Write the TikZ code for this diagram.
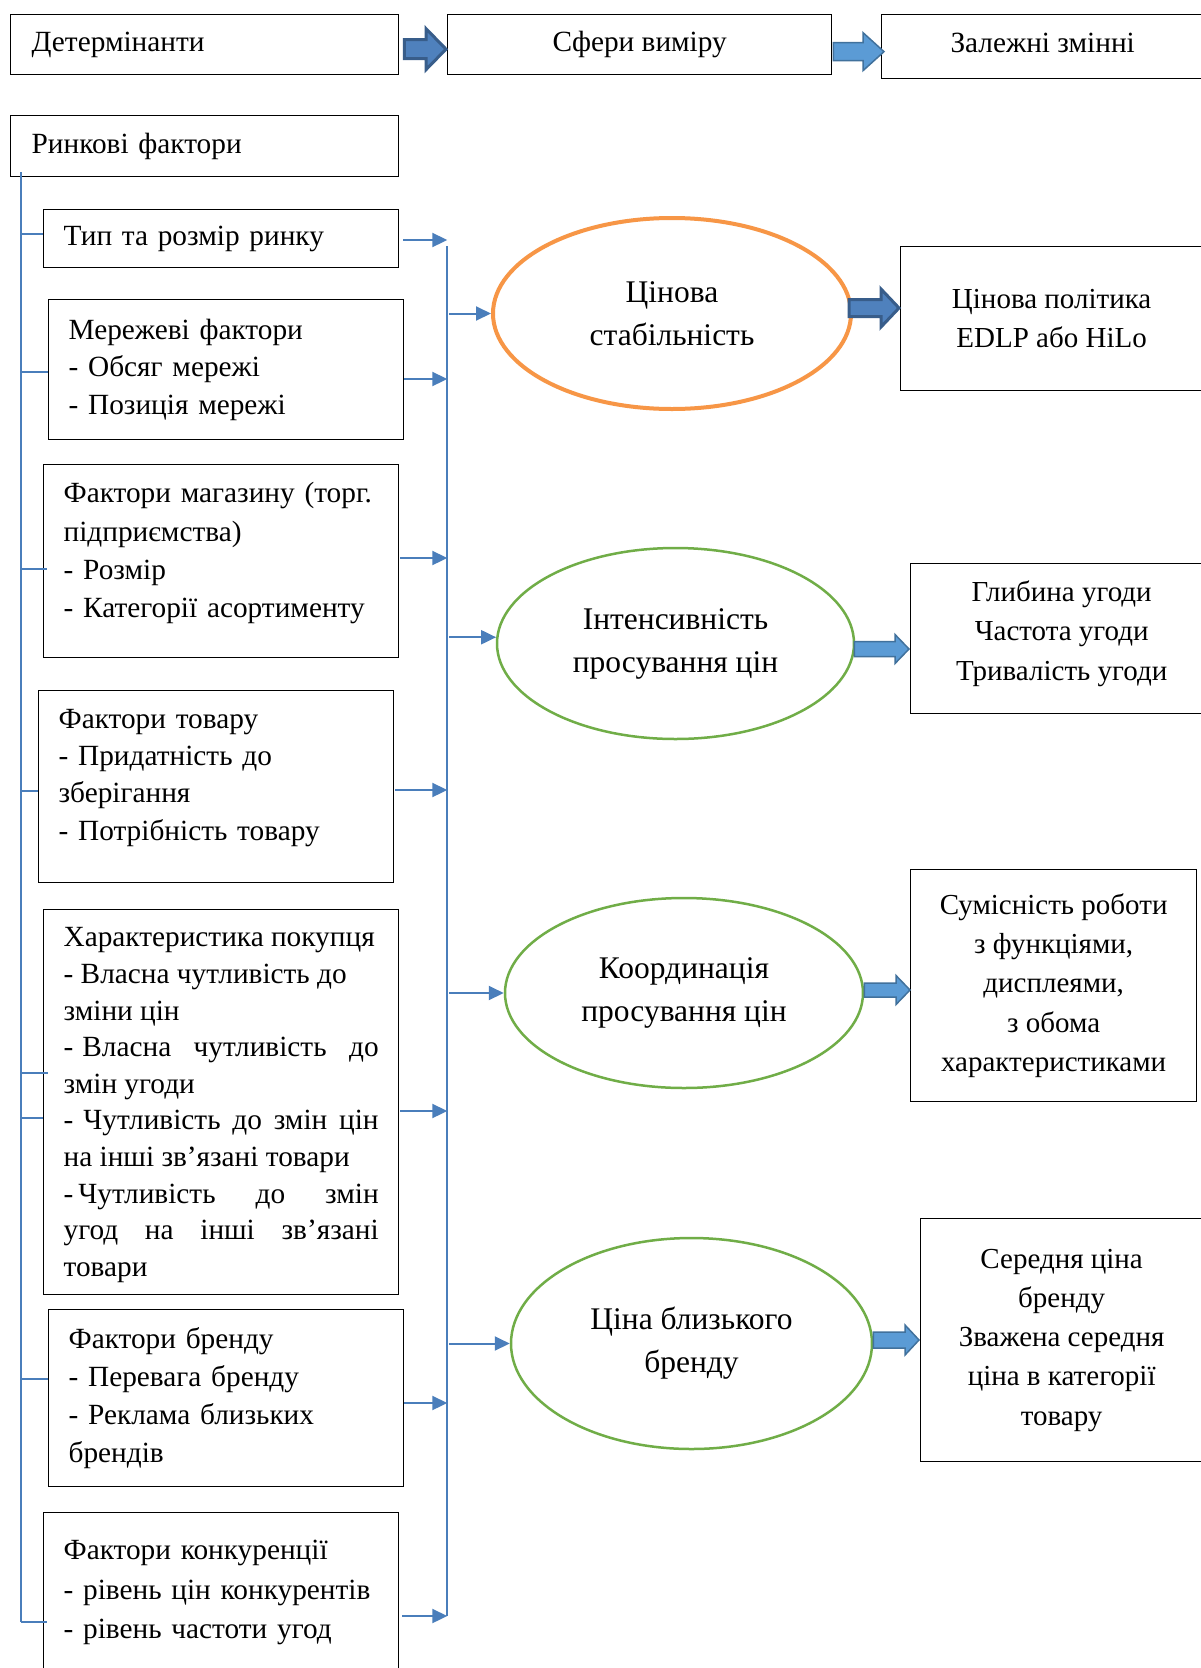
\documentclass[tikz,border=0pt]{standalone}
\usepackage{fontspec}
\setmainfont{Liberation Serif}
\usetikzlibrary{shapes.geometric,arrows.meta,calc}
\definecolor{connc}{HTML}{4A7EBB}
\definecolor{orangeE}{HTML}{F79646}
\definecolor{greenE}{HTML}{70AD47}
\definecolor{darkA}{HTML}{385D8A}
\definecolor{darkF}{HTML}{4F81BD}
\definecolor{lightA}{HTML}{41719C}
\definecolor{lightF}{HTML}{5B9BD5}
% style, start, end, body half, head half, head length
\newcommand\blockarrow[6]{%
  \path[#1] let \p1=#2, \p2=#3 in
    (\x1,\y1+#4pt) -- (\x2-#6pt,\y1+#4pt) -- (\x2-#6pt,\y1+#5pt) -- (\x2,\y1)
    -- (\x2-#6pt,\y1-#5pt) -- (\x2-#6pt,\y1-#4pt) -- (\x1,\y1-#4pt) -- cycle;}
\newcommand\ltick[2]{\draw[conn] let \p1=(lsTop), \p2=($(#1.north west)+(#2)$) in (\x1,\y2) -- (\p2);}
\newcommand\rarrow[2]{\draw[carrow] let \p1=($(#1.north east)+(#2)$), \p2=(rsTop) in (\p1) -- (\x2,\y1);}
\newcommand\earrow[1]{\draw[carrow] let \p1=(rsTop), \p2=(#1) in (\x1+2pt,\y2) -- (\p2);}
\tikzset{
  box/.style={draw=black, line width=1.3pt, anchor=north west, inner ysep=0pt,
    font=\fontsize{29.3}{37.5}\selectfont},
  lbox/.style={box, minimum width=355pt, inner xsep=20pt, text width=315pt, align=left},
  rbox/.style={box, align=center, font=\fontsize{29}{39.3}\selectfont},
  ell/.style={ellipse, inner sep=0pt, align=center, font=\fontsize{31.5}{43}\selectfont},
  ellO/.style={ell, draw=orangeE, line width=4pt},
  ellG/.style={ell, draw=greenE, line width=2.5pt},
  conn/.style={draw=connc, line width=2pt},
  carrow/.style={conn, -{Triangle[length=15pt,width=14pt]}},
  darkarrow/.style={fill=darkF, draw=darkA, line width=3pt},
  lightarrow/.style={fill=lightF, draw=lightA, line width=1.5pt}
}
\begin{document}
\begin{tikzpicture}[x=1pt,y=-1pt]
\useasboundingbox (0,0) rectangle (1200,1668);
\fill[white] (0,0) rectangle (1200,1668);

% top row
\node[box, minimum width=388pt, minimum height=60pt, inner xsep=21pt, text width=346pt, align=left] (det) at (10,14) {\raisebox{3pt}{Детермінанти}};
\node[box, minimum width=384pt, minimum height=60pt, align=center] (sfer) at (447,14) {\raisebox{4pt}{Сфери виміру}};
\node[box, minimum width=322pt, minimum height=64pt, align=center] (zal) at (881,14) {\raisebox{7pt}{Залежні змінні}};

% left boxes
\node[box, minimum width=388pt, minimum height=61pt, inner xsep=21pt, text width=346pt, align=left] (rynk) at (10,115) {Ринкові фактори};
\node[lbox, minimum height=58pt] (tip) at (43,209) {\mbox{Тип та розмір ринку}};
\node[lbox, minimum height=140pt] (mer) at (48,299) {\mbox{Мережеві фактори}\\\mbox{- Обсяг мережі}\\\mbox{- Позиція мережі}};
\node[lbox, minimum height=193pt, font=\fontsize{29.3}{38.3}\selectfont] (mag) at (43,464) {\mbox{Фактори магазину (торг.}\\\mbox{підприємства)}\\\mbox{- Розмір}\\\mbox{- Категорії асортименту}\vspace{16pt}};
\node[lbox, minimum height=192pt, font=\fontsize{29.3}{37.3}\selectfont] (tov) at (38,690) {\mbox{Фактори товару}\\\mbox{- Придатність до}\\\mbox{зберігання}\\\mbox{- Потрібність товару}\vspace{18pt}};
\node[box, minimum width=355pt, minimum height=385pt, inner xsep=20pt, text width=315pt, align=justify, font=\fontsize{29.3}{36.6}\selectfont] (buy) at (43,909) {\mbox{Характеристика покупця}\newline
\mbox{- Власна чутливість до}\newline
\mbox{зміни цін}\newline
-\hspace{9pt}Власна чутливість до\linebreak
\mbox{змін угоди}\newline
-\hspace{10pt}Чутливість до змін цін\linebreak
\mbox{на інші зв’язані товари}\newline
-\hspace{5pt}Чутливість до змін\linebreak
угод на інші зв’язані\linebreak
товари\vspace{-6pt}};
\node[lbox, minimum height=177pt, font=\fontsize{29.3}{38}\selectfont] (bra) at (48,1309) {\mbox{Фактори бренду}\\\mbox{- Перевага бренду}\\\mbox{- Реклама близьких}\\\mbox{брендів}};
\node[lbox, minimum height=160pt, font=\fontsize{29.3}{39.5}\selectfont] (kon) at (43,1512) {\mbox{Фактори конкуренції}\\\mbox{- рівень цін конкурентів}\\\mbox{- рівень частоти угод}};

% ellipses
\node[ellO, minimum width=358pt, minimum height=191pt] (e1) at (672,313.5) {Цінова\\стабільність};
\node[ellG, minimum width=357pt, minimum height=191pt] (e2) at (675.5,643.5) {Інтенсивність\\просування цін};
\node[ellG, minimum width=358pt, minimum height=190pt] (e3) at (684,993) {Координація\\просування цін};
\node[ellG, minimum width=361pt, minimum height=211pt] (e4) at (691.5,1343.5) {Ціна близького\\бренду};

% right boxes
\node[rbox, minimum width=302pt, minimum height=144pt] (pol) at (900,246) {Цінова політика\\EDLP або HiLo};
\node[rbox, minimum width=302pt, minimum height=150pt] (gly) at (910,563) {Глибина угоди\\Частота угоди\\Тривалість угоди\vspace{10pt}};
\node[rbox, minimum width=286pt, minimum height=232pt] (sum) at (910,869) {Сумісність роботи\\з функціями,\\дисплеями,\\з обома\\характеристиками};
\node[rbox, minimum width=282pt, minimum height=243pt] (ser) at (920,1218) {Середня ціна\\бренду\\Зважена середня\\ціна в категорії\\товару};

% left spine
\coordinate (lsTop) at ($(rynk.south west)+(11,-5)$);
\coordinate (lsBot) at ($(kon.north west)+(-22,110)$);
\draw[conn] (lsTop) -- (lsBot);
\ltick{tip}{0,25}
\ltick{mer}{0,73}
\ltick{mag}{4,105}
\ltick{tov}{0,101}
\ltick{buy}{5,164}
\ltick{buy}{0,209}
\ltick{bra}{0,70}
\ltick{kon}{4,110}

% right spine
\coordinate (rsTop) at ($(tip.north east)+(48,37)$);
\coordinate (rsBot) at ($(kon.north east)+(48,104)$);
\draw[conn] (rsTop) -- (rsBot);
\rarrow{tip}{4,31}
\rarrow{mer}{0,80}
\rarrow{mag}{1,94}
\rarrow{tov}{1,100}
\rarrow{buy}{1,202}
\rarrow{bra}{0,94}
\rarrow{kon}{3,104}

% arrows into ellipses
\earrow{e1.west}
\earrow{e2.178}
\earrow{e3.west}
\earrow{e4.west}

% block arrows
\blockarrow{darkarrow}{($(det.east)+(5,4.5)$)}{($(sfer.west)+(-1,4.5)$)}{9.5}{20.5}{20}
\blockarrow{lightarrow}{($(sfer.east)+(1,7)$)}{($(zal.west)+(3,5)$)}{9}{19}{21}
\blockarrow{darkarrow}{($(e1.east)+(-4,-5.5)$)}{($(pol.west)+(-1,-10)$)}{8.5}{19}{18}
\blockarrow{lightarrow}{($(e2.east)+(-1,5.5)$)}{($(gly.west)+(-1,11)$)}{7.5}{14.5}{14}
\blockarrow{lightarrow}{($(e3.east)+(0,-3)$)}{($(sum.west)+(0,5)$)}{7}{14.5}{14}
\blockarrow{lightarrow}{($(e4.east)+(0,-3.5)$)}{($(ser.west)+(-1,0.5)$)}{8}{15}{14}
\end{tikzpicture}
\end{document}
